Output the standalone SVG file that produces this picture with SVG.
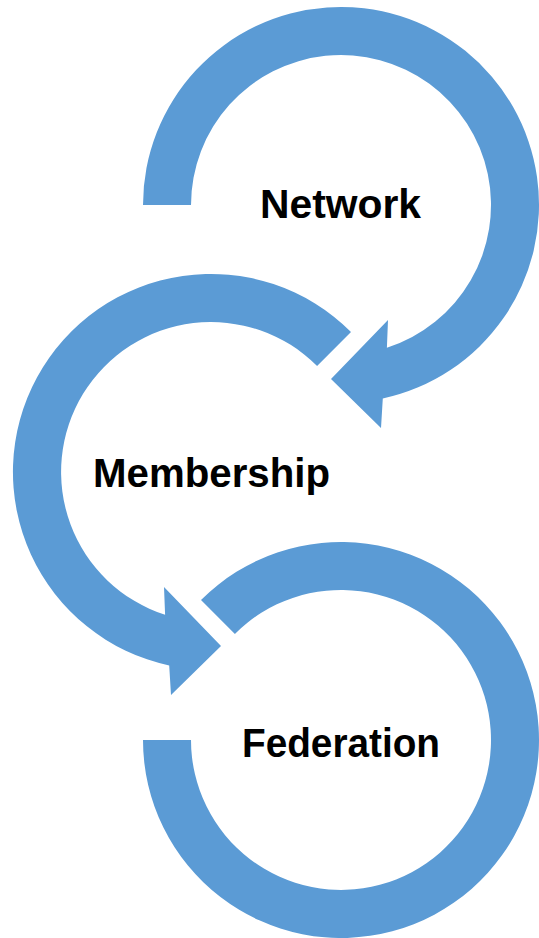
<svg xmlns="http://www.w3.org/2000/svg" width="539" height="938" viewBox="0 0 539 938">
<style>
.arrow{fill:#5B9BD5;stroke:none}
.label{font-family:"Liberation Sans",Arial,sans-serif;font-weight:bold;font-size:40px;fill:#000;text-anchor:middle}
</style>
<rect width="539" height="938" fill="#fff"/>
<g id="network">
<path class="arrow" d="M143,205 A198,198 0 1 1 382.8,398.5 L381,428 L331,379 L388,320 L386.9,347.8 A150,150 0 1 0 191,205 Z"/>
<text class="label" x="340.5" y="218" textLength="161" lengthAdjust="spacingAndGlyphs">Network</text>
</g>
<g id="membership">
<path class="arrow" d="M351,332 A198,198 0 1 0 169.2,665.5 L171,695 L221,646 L164,587 L165.1,614.8 A150,150 0 1 1 317.1,365.9 Z"/>
<text class="label" x="211.5" y="487" textLength="237" lengthAdjust="spacingAndGlyphs">Membership</text>
</g>
<g id="federation">
<path class="arrow" d="M201,600 A198,198 0 1 1 143,740 L191,740 A150,150 0 1 0 234.9,633.9 Z"/>
<text class="label" x="341" y="756.5" textLength="198" lengthAdjust="spacingAndGlyphs">Federation</text>
</g>
<g id="connectors"/>
</svg>
